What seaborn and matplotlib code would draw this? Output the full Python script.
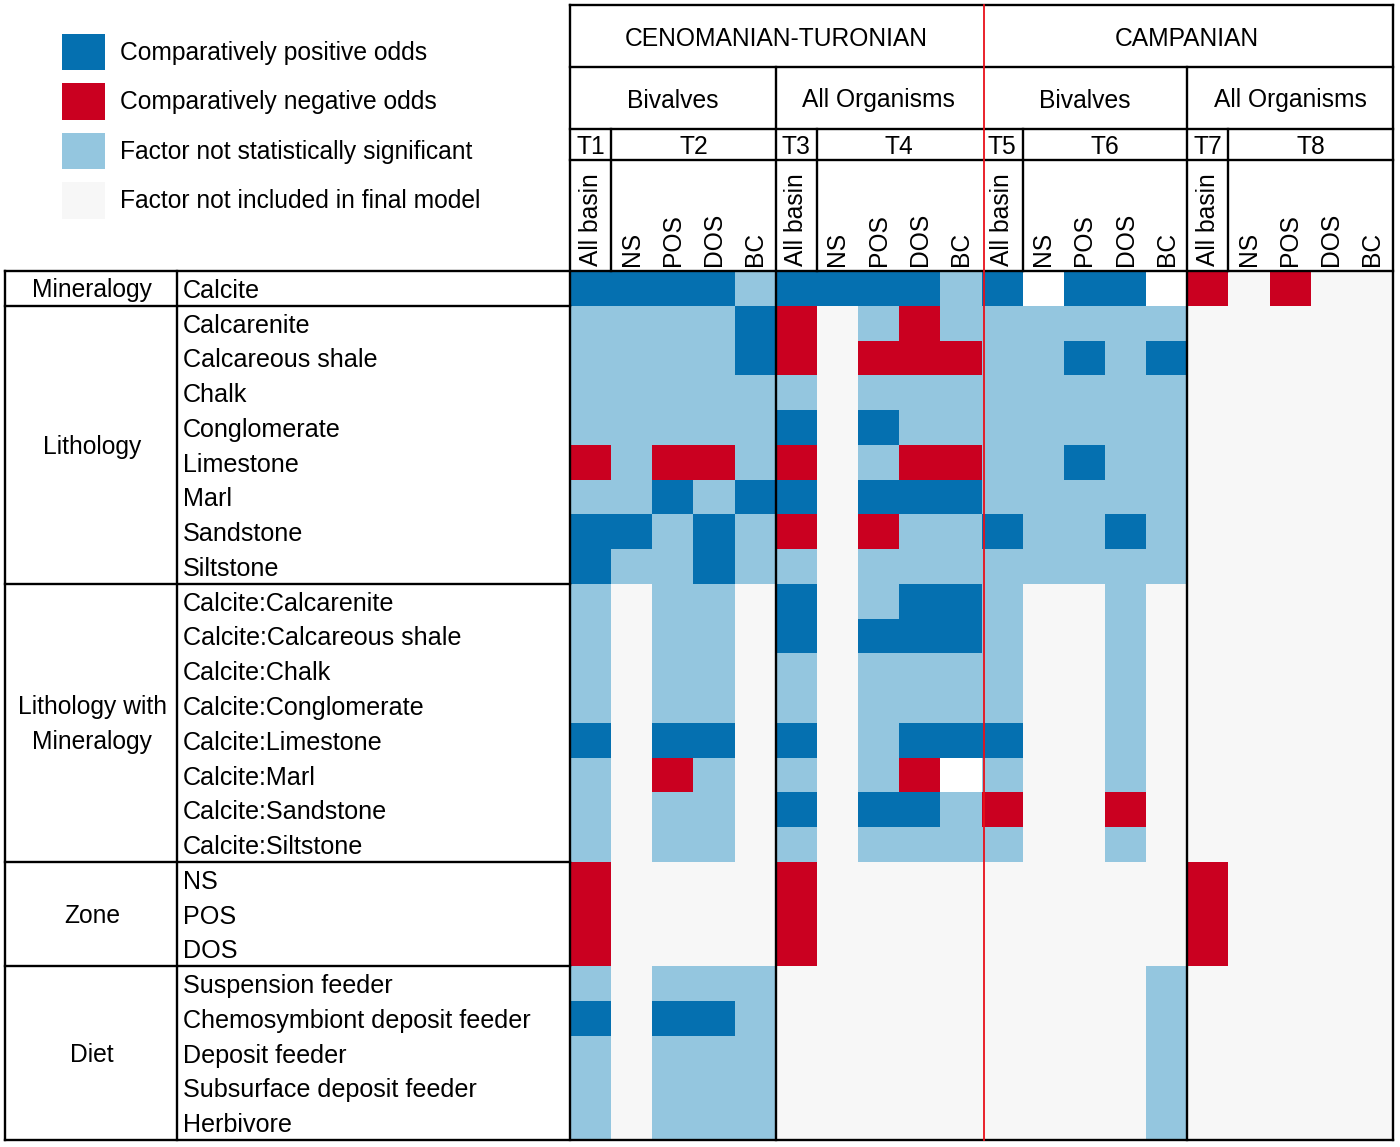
import numpy as np
import pandas as pd
import seaborn as sns
import matplotlib
matplotlib.use('Agg')
import matplotlib.pyplot as plt
from matplotlib.colors import ListedColormap
from matplotlib.patches import Patch

# Données
periods = ["CENOMANIAN-TURONIAN", "CAMPANIAN"]
taxa = ["Bivalves", "All Organisms", "Bivalves", "All Organisms"]
tests = ["T1", "T2", "T3", "T4", "T5", "T6", "T7", "T8"]
sub_labels = ["All basin", "NS", "POS", "DOS", "BC"] * 4

groups = ["Mineralogy", "Lithology", "Lithology with\nMineralogy", "Zone", "Diet"]
group_sizes = [1, 8, 8, 3, 5]

row_labels = [
    "Calcite",
    "Calcarenite", "Calcareous shale", "Chalk", "Conglomerate",
    "Limestone", "Marl", "Sandstone", "Siltstone",
    "Calcite:Calcarenite", "Calcite:Calcareous shale", "Calcite:Chalk",
    "Calcite:Conglomerate", "Calcite:Limestone", "Calcite:Marl",
    "Calcite:Sandstone", "Calcite:Siltstone",
    "NS", "POS", "DOS",
    "Suspension feeder", "Chemosymbiont deposit feeder", "Deposit feeder",
    "Subsurface deposit feeder", "Herbivore",
]

# B = positif, R = négatif, L = non significatif, G = non inclus, W = vide
cells = [
    "BBBBL BBBBL BWBBW RGRGG",
    "LLLLB RGLRL LLLLL GGGGG",
    "LLLLB RGRRR LLBLB GGGGG",
    "LLLLL LGLLL LLLLL GGGGG",
    "LLLLL BGBLL LLLLL GGGGG",
    "RLRRL RGLRR LLBLL GGGGG",
    "LLBLB BGBBB LLLLL GGGGG",
    "BBLBL RGRLL BLLBL GGGGG",
    "BLLBL LGLLL LLLLL GGGGG",
    "LGLLG BGLBB LGGLG GGGGG",
    "LGLLG BGBBB LGGLG GGGGG",
    "LGLLG LGLLL LGGLG GGGGG",
    "LGLLG LGLLL LGGLG GGGGG",
    "BGBBG BGLBB BGGLG GGGGG",
    "LGRLG LGLRW LGGLG GGGGG",
    "LGLLG BGBBL RGGRG GGGGG",
    "LGLLG LGLLL LGGLG GGGGG",
    "RGGGG RGGGG GGGGG RGGGG",
    "RGGGG RGGGG GGGGG RGGGG",
    "RGGGG RGGGG GGGGG RGGGG",
    "LGLLL GGGGG GGGGL GGGGG",
    "BGBBL GGGGG GGGGL GGGGG",
    "LGLLL GGGGG GGGGL GGGGG",
    "LGLLL GGGGG GGGGL GGGGG",
    "LGLLL GGGGG GGGGL GGGGG",
]

code_of = {"G": 0, "L": 1, "R": 2, "B": 3, "W": 4}
colors = ["#f7f7f7", "#94c6df", "#ca0020", "#0570b0", "#ffffff"]
legend_labels = ["Comparatively positive odds", "Comparatively negative odds",
                 "Factor not statistically significant", "Factor not included in final model"]
legend_colors = [colors[3], colors[2], colors[1], colors[0]]

mat = np.array([[code_of[c] for c in s.replace(" ", "")] for s in cells])
df = pd.DataFrame(mat, index=row_labels, columns=range(20))

plt.rcParams['font.family'] = ['Liberation Sans', 'DejaVu Sans']
FS = 17.7
FS_ROW = 18.1

W, H = 1400, 1147
left, right, top, bottom = 570, 1393, 271, 1140
fig = plt.figure(figsize=(14, 11.47), dpi=100)
ax = fig.add_axes([left / W, (H - bottom) / H, (right - left) / W, (bottom - top) / H])

sns.heatmap(df, cmap=ListedColormap(colors), vmin=-0.5, vmax=4.5, cbar=False,
            xticklabels=False, yticklabels=False, ax=ax)
ax.set_xlabel("")
ax.set_ylabel("")


# conversions pixels -> coordonnées axes
def xa(px):
    return (px - left) / (right - left)


def ya(px):
    return (bottom - px) / (bottom - top)


ncol, nrow = 20, 25


def cx(i):
    return i / ncol


def ry(r):
    return 1 - r / nrow


def line(x, y, color='black', lw=1.7):
    ax.plot(x, y, transform=ax.transAxes, clip_on=False, color=color, lw=lw,
            solid_capstyle='projecting')


# en-tête
y_top, y_p, y_t, y_s = ya(5), ya(67), ya(129), ya(160)
for yy in [y_top, y_p, y_t, y_s]:
    line([0, 1], [yy, yy])
line([xa(5), 1], [1, 1])
line([xa(5), 1], [0, 0])
line([0, 0], [0, y_top])
line([1, 1], [0, y_top])
line([cx(5), cx(5)], [0, y_p])
line([cx(15), cx(15)], [0, y_p])
for c in [1, 6, 11, 16]:
    line([cx(c), cx(c)], [1, y_t])

# tableau de gauche
line([xa(5), xa(5)], [0, 1])
line([xa(177), xa(177)], [0, 1])
bounds = np.cumsum(group_sizes)
for b in bounds[:-1]:
    line([xa(5), 0], [ry(b), ry(b)])

line([xa(984), xa(984)], [0, y_top], color='#e8101a', lw=1.3)

tr = ax.transAxes
for k, p in enumerate(periods):
    ax.text(cx(10 * k + 5), (y_top + y_p) / 2, p, transform=tr, ha='center',
            va='center_baseline', fontsize=FS)
for k, t in enumerate(taxa):
    ax.text(cx(5 * k + 2.5), (y_p + y_t) / 2, t, transform=tr, ha='center',
            va='center_baseline', fontsize=FS)
for k, t in enumerate(tests):
    pos = 5 * (k // 2) + (0.5 if k % 2 == 0 else 3)
    ax.text(cx(pos), (y_t + y_s) / 2, t, transform=tr, ha='center',
            va='center_baseline', fontsize=FS)

xt = ax.get_xaxis_transform()
for i, s in enumerate(sub_labels):
    ax.text(i + 0.5, ya(266), s, transform=xt, rotation=90, ha='center', va='bottom', fontsize=FS)

yt = ax.get_yaxis_transform()
for r, lab in enumerate(row_labels):
    ax.text(xa(183), r + 0.5, lab, transform=yt, ha='left', va='center_baseline', fontsize=FS_ROW)

start = 0
for g, n in zip(groups, group_sizes):
    ax.text(xa(92), start + n / 2 + 0.05, g, transform=yt, ha='center', va='center',
            fontsize=FS, linespacing=1.55)
    start += n

handles = [Patch(facecolor=c, edgecolor='none') for c in legend_colors]
fig.legend(handles, legend_labels, loc='upper left', bbox_to_anchor=(62 / W, 1 - 34 / H),
           frameon=False, fontsize=FS, handlelength=1.75, handleheight=1.9,
           handletextpad=0.62, labelspacing=0.53, borderpad=0, borderaxespad=0)

fig.savefig('out.png', dpi=100)
